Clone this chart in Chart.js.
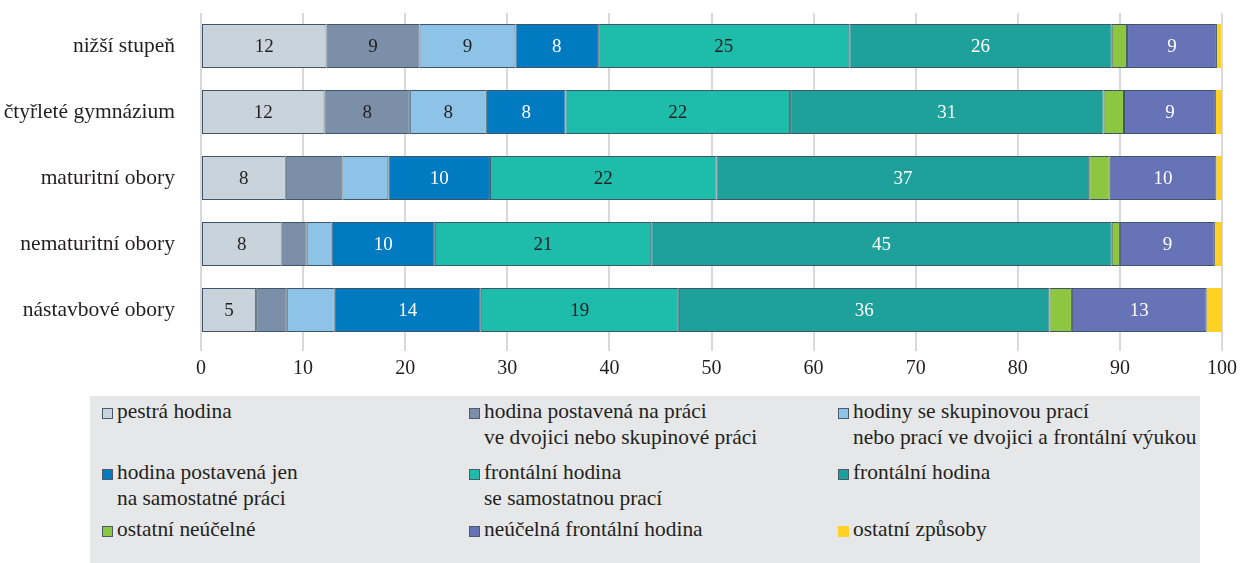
<!DOCTYPE html>
<html lang="cs">
<head>
    <meta charset="UTF-8">
    <title>Typy hodin</title>
    <style>
        body {
            margin: 0;
            padding: 0;
            background: #fff;
            font-family: "Liberation Serif", serif;
            color: #231f20;
        }
        .wrap {
            position: relative;
            width: 1241px;
            height: 563px;
        }
        #chart {
            position: absolute;
            left: 0;
            top: 0;
        }
        .legend {
            position: absolute;
            left: 90px;
            top: 396px;
            width: 1110px;
            height: 167px;
            background: #e6e7e9;
        }
        .legend-item {
            position: absolute;
            font-size: 21.4px;
            line-height: 26px;
            white-space: pre;
        }
        .legend-item .box {
            position: absolute;
            left: -15px;
            top: 10px;
            width: 9px;
            height: 9px;
            border: 1px solid #4a5a6a;
        }
    </style>
</head>
<body>
<div class="wrap">
    <canvas id="chart" width="1241" height="392"></canvas>
    <div class="legend" id="legend"></div>
</div>

<script src="https://cdn.jsdelivr.net/npm/chart.js"></script>
<script>
    // data (percent of lessons)
    const categories = ['nižší stupeň', 'čtyřleté gymnázium', 'maturitní obory', 'nematuritní obory', 'nástavbové obory'];
    const seriesNames = [
        'pestrá hodina',
        'hodina postavená na práci\nve dvojici nebo skupinové práci',
        'hodiny se skupinovou prací\nnebo prací ve dvojici a frontální výukou',
        'hodina postavená jen\nna samostatné práci',
        'frontální hodina\nse samostatnou prací',
        'frontální hodina',
        'ostatní neúčelné',
        'neúčelná frontální hodina',
        'ostatní způsoby'
    ];
    const pestra = [12.3, 12.1, 8.3, 7.9, 5.4];
    const dvojice = [9.1, 8.35, 5.55, 2.45, 3.0];
    const skupinova = [9.4, 7.55, 4.5, 2.45, 4.7];
    const samostatna = [8.1, 7.7, 9.95, 10.1, 14.3];
    const frontSam = [24.6, 22.0, 22.2, 21.2, 19.4];
    const frontalni = [25.7, 30.7, 36.5, 45.1, 36.3];
    const ostNeucelne = [1.5, 2.0, 2.0, 0.8, 2.2];
    const neucFront = [8.8, 9.0, 10.45, 9.3, 13.2];
    const ostatni = [0.4, 0.6, 0.55, 0.7, 1.5];
    const xTicks = [0, 10, 20, 30, 40, 50, 60, 70, 80, 90, 100];

    const seriesValues = [pestra, dvojice, skupinova, samostatna, frontSam, frontalni, ostNeucelne, neucFront, ostatni];
    const colors = ['#c9d3dc', '#7b8fa8', '#8ec3e8', '#007bc2', '#1ebcaa', '#1ea19a', '#8dc63f', '#6673b6', '#ffd124'];
    const labelColors = ['#231f20', '#231f20', '#231f20', '#ffffff', '#231f20', '#ffffff', '#231f20', '#ffffff', '#231f20'];
    const noLabel = ['2:1']; // row:series without a number

    const datasets = seriesValues.map((vals, i) => ({
        label: seriesNames[i],
        data: vals,
        backgroundColor: colors[i],
        borderColor: i === 8 ? colors[i] : '#3f5569',
        borderWidth: i === 8 ? 0 : 1,
        borderSkipped: false,
        barPercentage: 0.667,
        categoryPercentage: 1.0
    }));

    // numbers inside the segments
    const segmentLabels = {
        id: 'segmentLabels',
        afterDatasetsDraw(chart) {
            const ctx = chart.ctx;
            ctx.save();
            ctx.font = '19px "Liberation Serif", serif';
            ctx.textAlign = 'center';
            ctx.textBaseline = 'middle';
            chart.data.datasets.forEach((ds, i) => {
                const meta = chart.getDatasetMeta(i);
                meta.data.forEach((el, j) => {
                    const v = ds.data[j];
                    if (v < 5 || noLabel.includes(j + ':' + i)) return;
                    ctx.fillStyle = labelColors[i];
                    ctx.fillText(Math.round(v), (el.x + el.base) / 2, el.y + 1);
                });
            });
            ctx.restore();
        }
    };

    new Chart(document.getElementById('chart'), {
        type: 'bar',
        data: { labels: categories, datasets: datasets },
        options: {
            indexAxis: 'y',
            responsive: false,
            animation: false,
            layout: { padding: { top: 13, right: 19, left: 0, bottom: 0 } },
            plugins: {
                legend: { display: false },
                tooltip: { enabled: false }
            },
            scales: {
                x: {
                    stacked: true,
                    min: 0,
                    max: 100,
                    afterBuildTicks: (scale) => { scale.ticks = xTicks.map(v => ({ value: v })); },
                    afterFit: (scale) => { scale.height = 49; scale.paddingLeft = 0; scale.paddingRight = 0; },
                    border: { display: false },
                    grid: { color: '#d9d9d9', lineWidth: 2, tickLength: 8, drawTicks: true },
                    ticks: {
                        color: '#231f20',
                        padding: 6,
                        font: { family: '"Liberation Serif", serif', size: 20 }
                    }
                },
                y: {
                    stacked: true,
                    afterFit: (scale) => { scale.width = 201; scale.paddingTop = 0; scale.paddingBottom = 0; },
                    border: { display: false },
                    grid: { display: false },
                    ticks: {
                        color: '#231f20',
                        padding: 18,
                        font: { family: '"Liberation Serif", serif', size: 21.5 }
                    }
                }
            }
        },
        plugins: [segmentLabels]
    });

    // legend in three columns, like the original
    const legendPos = [
        [27, 2], [394, 2], [763, 2],
        [27, 63], [394, 63], [763, 63],
        [27, 120], [394, 120], [763, 120]
    ];
    const legend = document.getElementById('legend');
    seriesNames.forEach((name, i) => {
        const item = document.createElement('div');
        item.className = 'legend-item';
        item.style.left = legendPos[i][0] + 'px';
        item.style.top = legendPos[i][1] + 'px';
        const box = document.createElement('span');
        box.className = 'box';
        box.style.background = colors[i];
        if (i === 8) box.style.borderColor = colors[i];
        item.appendChild(box);
        item.appendChild(document.createTextNode(name));
        legend.appendChild(item);
    });
</script>
</body>
</html>
